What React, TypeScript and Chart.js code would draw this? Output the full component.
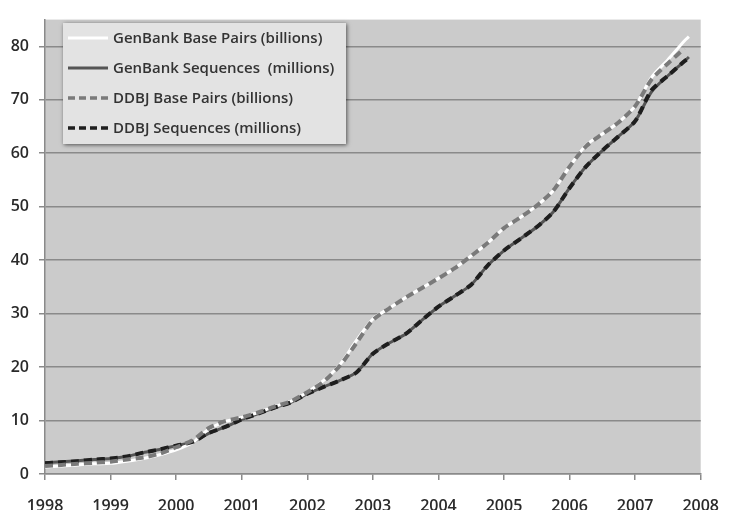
import React, { useEffect, useRef } from 'react';
import { Chart, registerables } from 'chart.js';

Chart.register(...registerables);

const years = [
  1998.0, 1998.25, 1998.5, 1998.75, 1999.0, 1999.25, 1999.5, 1999.75,
  2000.0, 2000.25, 2000.5, 2000.75, 2001.0, 2001.25, 2001.5, 2001.75,
  2002.0, 2002.25, 2002.5, 2002.75, 2003.0, 2003.25, 2003.5, 2003.75,
  2004.0, 2004.25, 2004.5, 2004.75, 2005.0, 2005.25, 2005.5, 2005.75,
  2006.0, 2006.25, 2006.5, 2006.75, 2007.0, 2007.25, 2007.5, 2007.75, 2007.82,
];

const genbankBasePairs = [
  1.3, 1.5, 1.7, 1.9, 2.0, 2.4, 2.9, 3.6,
  4.5, 5.9, 8.4, 9.8, 10.6, 11.5, 12.6, 13.6,
  15.3, 17.5, 20.5, 25.0, 29.0, 31.0, 33.0, 34.8,
  36.6, 38.5, 40.8, 43.2, 46.0, 48.0, 50.2, 53.0,
  57.5, 61.5, 63.6, 65.8, 68.8, 74.2, 77.5, 81.0, 81.8,
];

const genbankSequences = [
  2.1, 2.3, 2.5, 2.7, 2.9, 3.3, 4.0, 4.6,
  5.3, 6.0, 7.6, 8.8, 10.2, 11.3, 12.4, 13.4,
  15.0, 16.3, 17.5, 19.0, 22.5, 24.5, 26.2, 28.8,
  31.3, 33.3, 35.4, 39.0, 41.8, 44.0, 46.2, 49.0,
  53.5, 57.5, 60.5, 63.2, 66.0, 71.5, 74.5, 77.2, 78.0,
];

const ddbjBasePairs = [
  1.5, 1.7, 1.9, 2.1, 2.3, 2.7, 3.1, 3.8,
  5.0, 6.3, 8.6, 9.9, 10.6, 11.5, 12.6, 13.6,
  15.3, 17.3, 20.3, 24.5, 28.8, 31.0, 33.0, 34.8,
  36.6, 38.5, 40.8, 43.2, 46.0, 48.0, 50.2, 53.0,
  57.5, 61.3, 63.6, 65.8, 68.8, 73.8, 76.8, 79.6, null,
];

const ddbjSequences = [
  2.0, 2.2, 2.4, 2.7, 2.9, 3.3, 4.0, 4.6,
  5.3, 6.0, 7.7, 8.8, 10.2, 11.3, 12.4, 13.4,
  15.0, 16.3, 17.5, 19.0, 22.5, 24.5, 26.2, 28.8,
  31.3, 33.3, 35.4, 39.0, 41.8, 44.0, 46.2, 49.0,
  53.5, 57.5, 60.5, 63.2, 66.0, 71.8, 74.5, 77.2, 77.8,
];

const seriesLabels = [
  'GenBank Base Pairs (billions)',
  'GenBank Sequences  (millions)',
  'DDBJ Base Pairs (billions)',
  'DDBJ Sequences (millions)',
];

const FONT = '"Open Sans", Lato, sans-serif';

function toPoints(values: (number | null)[]) {
  return years.map((x, i) => ({ x, y: values[i] }));
}

const plotBackground = {
  id: 'plotBackground',
  beforeDraw(chart: any) {
    const { ctx, chartArea } = chart;
    ctx.save();
    ctx.fillStyle = '#cbcbcb';
    ctx.fillRect(chartArea.left, chartArea.top, chartArea.right - chartArea.left, chartArea.bottom - chartArea.top);
    ctx.restore();
  },
};

const insideLegend = {
  id: 'insideLegend',
  afterDraw(chart: any) {
    const { ctx } = chart;
    const x0 = 63, y0 = 23, w = 283, h = 121;
    ctx.save();
    ctx.shadowColor = 'rgba(0,0,0,0.6)';
    ctx.shadowBlur = 4;
    ctx.shadowOffsetX = 1;
    ctx.shadowOffsetY = 1;
    ctx.fillStyle = '#e3e3e3';
    ctx.fillRect(x0, y0, w, h);
    ctx.restore();
    ctx.save();
    const styles = [
      { color: '#ffffff', dash: [] as number[], width: 3 },
      { color: '#555555', dash: [] as number[], width: 3 },
      { color: '#7a7a7a', dash: [7, 4], width: 3.5 },
      { color: '#1e1e1e', dash: [7, 4], width: 3.5 },
    ];
    ctx.font = '600 15px ' + FONT;
    ctx.textBaseline = 'middle';
    ctx.textAlign = 'left';
    seriesLabels.forEach((label, i) => {
      const y = 38 + i * 30;
      const s = styles[i];
      ctx.beginPath();
      ctx.setLineDash(s.dash);
      ctx.lineWidth = s.width;
      ctx.strokeStyle = s.color;
      ctx.moveTo(68, y);
      ctx.lineTo(108, y);
      ctx.stroke();
      ctx.setLineDash([]);
      ctx.fillStyle = '#333333';
      ctx.fillText(label, 113, y + 1);
    });
    ctx.restore();
  },
};

export default function App() {
  const canvasRef = useRef<HTMLCanvasElement | null>(null);

  useEffect(() => {
    document.body.style.margin = '0';
    const canvas = canvasRef.current;
    if (!canvas) return;
    const chart = new Chart(canvas, {
      type: 'line',
      data: {
        datasets: [
          {
            label: seriesLabels[0],
            data: toPoints(genbankBasePairs),
            borderColor: '#ffffff',
            borderWidth: 3,
            pointRadius: 0,
            tension: 0.25,
            order: 2,
          },
          {
            label: seriesLabels[1],
            data: toPoints(genbankSequences),
            borderColor: '#555555',
            borderWidth: 3,
            pointRadius: 0,
            tension: 0.25,
            order: 2,
          },
          {
            label: seriesLabels[2],
            data: toPoints(ddbjBasePairs),
            borderColor: '#7a7a7a',
            borderWidth: 4,
            borderDash: [8, 5],
            pointRadius: 0,
            tension: 0.25,
            order: 1,
          },
          {
            label: seriesLabels[3],
            data: toPoints(ddbjSequences),
            borderColor: '#1e1e1e',
            borderWidth: 4,
            borderDash: [8, 5],
            pointRadius: 0,
            tension: 0.25,
            order: 1,
          },
        ],
      },
      options: {
        animation: false,
        responsive: false,
        layout: { padding: { left: 0, top: 9, right: 20, bottom: 0 } },
        plugins: {
          legend: { display: false },
          tooltip: { enabled: false },
        },
        scales: {
          x: {
            type: 'linear',
            min: 1998,
            max: 2008,
            ticks: {
              stepSize: 1,
              padding: 17,
              color: '#2a2a2a',
              font: { family: FONT, size: 16, weight: '600' },
              maxRotation: 0,
              callback: (v: any) => String(v),
            },
            grid: { drawOnChartArea: false, drawTicks: true, tickLength: 6, color: '#8a8a8a', lineWidth: 1.5 },
            border: { display: true, color: '#8a8a8a', width: 1.5 },
            afterFit: (s: any) => { s.height = 36; },
          },
          y: {
            type: 'linear',
            min: 0,
            max: 85,
            ticks: {
              stepSize: 10,
              padding: 10,
              color: '#2a2a2a',
              font: { family: FONT, size: 16, weight: '600' },
              callback: (v: any) => String(v),
            },
            afterBuildTicks: (s: any) => {
              s.ticks = s.ticks.filter((t: any) => t.value % 10 === 0);
            },
            grid: { drawTicks: true, tickLength: 6, color: '#8a8a8a', lineWidth: 1.5 },
            border: { display: true, color: '#8a8a8a', width: 1.5 },
            afterFit: (s: any) => { s.width = 45; },
          },
        },
      },
      plugins: [plotBackground, insideLegend],
    });
    return () => chart.destroy();
  }, []);

  return (
    <div style={{ position: 'absolute', left: 0, top: 0, width: 736, height: 510, background: '#ffffff' }}>
      <canvas ref={canvasRef} width={736} height={510} style={{ width: 736, height: 510 }} />
    </div>
  );
}
